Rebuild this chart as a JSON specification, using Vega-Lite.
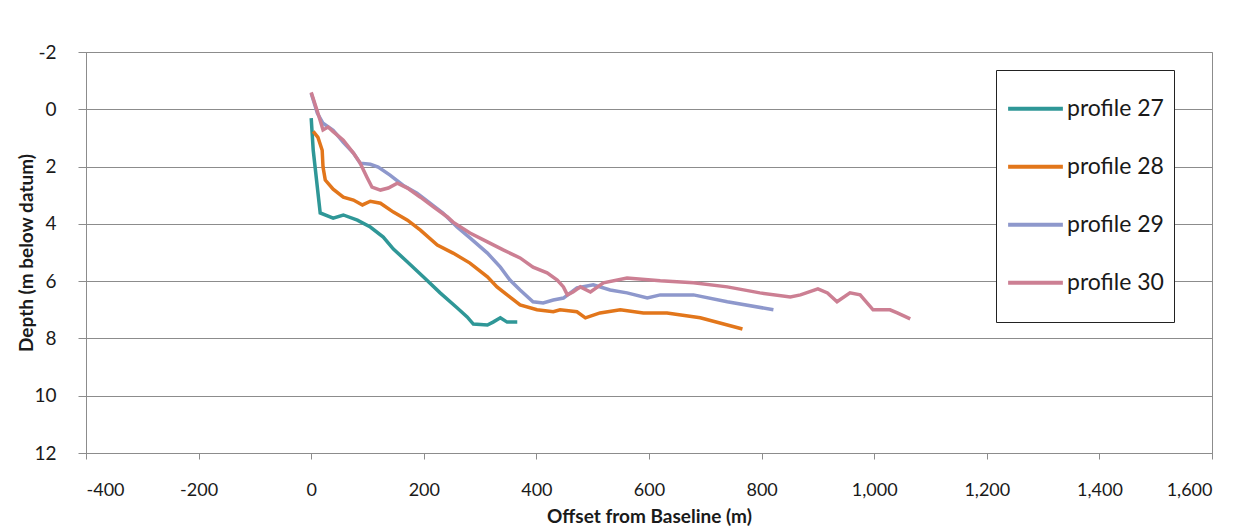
{
  "$schema": "https://vega.github.io/schema/vega-lite/v6.json",
  "autosize": {"type": "none"},
  "width": 1126,
  "height": 401,
  "padding": {"left": 86, "top": 52, "right": 38, "bottom": 79},
  "background": "white",
  "config": {
    "view": {"stroke": "#8c8c8c", "strokeWidth": 1},
    "font": "Lato"
  },
  "data": {"values": [
    {"profile": "profile 27", "offset": 0, "depth": 0.31},
    {"profile": "profile 27", "offset": 3.6, "depth": 1.43},
    {"profile": "profile 27", "offset": 16, "depth": 3.62},
    {"profile": "profile 27", "offset": 39, "depth": 3.8},
    {"profile": "profile 27", "offset": 57, "depth": 3.69},
    {"profile": "profile 27", "offset": 82, "depth": 3.87},
    {"profile": "profile 27", "offset": 105, "depth": 4.11},
    {"profile": "profile 27", "offset": 128, "depth": 4.46},
    {"profile": "profile 27", "offset": 146, "depth": 4.88},
    {"profile": "profile 27", "offset": 171, "depth": 5.33},
    {"profile": "profile 27", "offset": 199, "depth": 5.85},
    {"profile": "profile 27", "offset": 229, "depth": 6.41},
    {"profile": "profile 27", "offset": 259, "depth": 6.93},
    {"profile": "profile 27", "offset": 277, "depth": 7.25},
    {"profile": "profile 27", "offset": 288, "depth": 7.5},
    {"profile": "profile 27", "offset": 313, "depth": 7.53},
    {"profile": "profile 27", "offset": 323, "depth": 7.43},
    {"profile": "profile 27", "offset": 336, "depth": 7.28},
    {"profile": "profile 27", "offset": 348, "depth": 7.43},
    {"profile": "profile 27", "offset": 366, "depth": 7.43},

    {"profile": "profile 28", "offset": 3.5, "depth": 0.77},
    {"profile": "profile 28", "offset": 12, "depth": 0.98},
    {"profile": "profile 28", "offset": 19.5, "depth": 1.43},
    {"profile": "profile 28", "offset": 21, "depth": 2.02},
    {"profile": "profile 28", "offset": 25, "depth": 2.47},
    {"profile": "profile 28", "offset": 39, "depth": 2.79},
    {"profile": "profile 28", "offset": 57, "depth": 3.07},
    {"profile": "profile 28", "offset": 75, "depth": 3.17},
    {"profile": "profile 28", "offset": 91, "depth": 3.34},
    {"profile": "profile 28", "offset": 105, "depth": 3.21},
    {"profile": "profile 28", "offset": 123, "depth": 3.28},
    {"profile": "profile 28", "offset": 146, "depth": 3.59},
    {"profile": "profile 28", "offset": 171, "depth": 3.87},
    {"profile": "profile 28", "offset": 194, "depth": 4.22},
    {"profile": "profile 28", "offset": 224, "depth": 4.74},
    {"profile": "profile 28", "offset": 252, "depth": 5.02},
    {"profile": "profile 28", "offset": 282, "depth": 5.37},
    {"profile": "profile 28", "offset": 313, "depth": 5.85},
    {"profile": "profile 28", "offset": 330, "depth": 6.2},
    {"profile": "profile 28", "offset": 348, "depth": 6.48},
    {"profile": "profile 28", "offset": 371, "depth": 6.83},
    {"profile": "profile 28", "offset": 401, "depth": 7.0},
    {"profile": "profile 28", "offset": 430, "depth": 7.07},
    {"profile": "profile 28", "offset": 442, "depth": 7.0},
    {"profile": "profile 28", "offset": 472, "depth": 7.07},
    {"profile": "profile 28", "offset": 487, "depth": 7.28},
    {"profile": "profile 28", "offset": 513, "depth": 7.11},
    {"profile": "profile 28", "offset": 549, "depth": 7.0},
    {"profile": "profile 28", "offset": 590, "depth": 7.11},
    {"profile": "profile 28", "offset": 632, "depth": 7.11},
    {"profile": "profile 28", "offset": 691, "depth": 7.28},
    {"profile": "profile 28", "offset": 766, "depth": 7.67},

    {"profile": "profile 29", "offset": 0, "depth": -0.56},
    {"profile": "profile 29", "offset": 11, "depth": 0.14},
    {"profile": "profile 29", "offset": 21, "depth": 0.49},
    {"profile": "profile 29", "offset": 39, "depth": 0.73},
    {"profile": "profile 29", "offset": 57, "depth": 1.15},
    {"profile": "profile 29", "offset": 75, "depth": 1.53},
    {"profile": "profile 29", "offset": 87, "depth": 1.88},
    {"profile": "profile 29", "offset": 105, "depth": 1.92},
    {"profile": "profile 29", "offset": 119, "depth": 2.02},
    {"profile": "profile 29", "offset": 140, "depth": 2.3},
    {"profile": "profile 29", "offset": 163, "depth": 2.65},
    {"profile": "profile 29", "offset": 188, "depth": 2.93},
    {"profile": "profile 29", "offset": 211, "depth": 3.28},
    {"profile": "profile 29", "offset": 234, "depth": 3.62},
    {"profile": "profile 29", "offset": 259, "depth": 4.11},
    {"profile": "profile 29", "offset": 282, "depth": 4.49},
    {"profile": "profile 29", "offset": 313, "depth": 5.02},
    {"profile": "profile 29", "offset": 336, "depth": 5.51},
    {"profile": "profile 29", "offset": 353, "depth": 5.96},
    {"profile": "profile 29", "offset": 371, "depth": 6.31},
    {"profile": "profile 29", "offset": 394, "depth": 6.72},
    {"profile": "profile 29", "offset": 412, "depth": 6.76},
    {"profile": "profile 29", "offset": 430, "depth": 6.66},
    {"profile": "profile 29", "offset": 448, "depth": 6.59},
    {"profile": "profile 29", "offset": 472, "depth": 6.24},
    {"profile": "profile 29", "offset": 501, "depth": 6.13},
    {"profile": "profile 29", "offset": 531, "depth": 6.31},
    {"profile": "profile 29", "offset": 561, "depth": 6.41},
    {"profile": "profile 29", "offset": 597, "depth": 6.59},
    {"profile": "profile 29", "offset": 620, "depth": 6.48},
    {"profile": "profile 29", "offset": 679, "depth": 6.48},
    {"profile": "profile 29", "offset": 739, "depth": 6.72},
    {"profile": "profile 29", "offset": 821, "depth": 7.0},

    {"profile": "profile 30", "offset": 0, "depth": -0.59},
    {"profile": "profile 30", "offset": 12, "depth": 0.14},
    {"profile": "profile 30", "offset": 21, "depth": 0.72},
    {"profile": "profile 30", "offset": 30, "depth": 0.62},
    {"profile": "profile 30", "offset": 39, "depth": 0.78},
    {"profile": "profile 30", "offset": 57, "depth": 1.08},
    {"profile": "profile 30", "offset": 75, "depth": 1.53},
    {"profile": "profile 30", "offset": 87, "depth": 1.88},
    {"profile": "profile 30", "offset": 99, "depth": 2.37},
    {"profile": "profile 30", "offset": 108, "depth": 2.72},
    {"profile": "profile 30", "offset": 123, "depth": 2.82},
    {"profile": "profile 30", "offset": 137, "depth": 2.75},
    {"profile": "profile 30", "offset": 153, "depth": 2.58},
    {"profile": "profile 30", "offset": 171, "depth": 2.75},
    {"profile": "profile 30", "offset": 194, "depth": 3.07},
    {"profile": "profile 30", "offset": 217, "depth": 3.41},
    {"profile": "profile 30", "offset": 242, "depth": 3.76},
    {"profile": "profile 30", "offset": 252, "depth": 3.94},
    {"profile": "profile 30", "offset": 282, "depth": 4.32},
    {"profile": "profile 30", "offset": 313, "depth": 4.63},
    {"profile": "profile 30", "offset": 341, "depth": 4.91},
    {"profile": "profile 30", "offset": 371, "depth": 5.19},
    {"profile": "profile 30", "offset": 394, "depth": 5.51},
    {"profile": "profile 30", "offset": 419, "depth": 5.71},
    {"profile": "profile 30", "offset": 437, "depth": 5.96},
    {"profile": "profile 30", "offset": 448, "depth": 6.2},
    {"profile": "profile 30", "offset": 455, "depth": 6.48},
    {"profile": "profile 30", "offset": 465, "depth": 6.38},
    {"profile": "profile 30", "offset": 478, "depth": 6.2},
    {"profile": "profile 30", "offset": 496, "depth": 6.38},
    {"profile": "profile 30", "offset": 519, "depth": 6.06},
    {"profile": "profile 30", "offset": 561, "depth": 5.89},
    {"profile": "profile 30", "offset": 620, "depth": 5.99},
    {"profile": "profile 30", "offset": 679, "depth": 6.06},
    {"profile": "profile 30", "offset": 739, "depth": 6.2},
    {"profile": "profile 30", "offset": 797, "depth": 6.41},
    {"profile": "profile 30", "offset": 851, "depth": 6.55},
    {"profile": "profile 30", "offset": 869, "depth": 6.48},
    {"profile": "profile 30", "offset": 900, "depth": 6.27},
    {"profile": "profile 30", "offset": 917, "depth": 6.41},
    {"profile": "profile 30", "offset": 934, "depth": 6.72},
    {"profile": "profile 30", "offset": 957, "depth": 6.41},
    {"profile": "profile 30", "offset": 975, "depth": 6.48},
    {"profile": "profile 30", "offset": 998, "depth": 7.0},
    {"profile": "profile 30", "offset": 1028, "depth": 7.0},
    {"profile": "profile 30", "offset": 1041, "depth": 7.11},
    {"profile": "profile 30", "offset": 1064, "depth": 7.32}
  ]},
  "mark": {"type": "line", "strokeWidth": 3.5, "interpolate": "linear"},
  "encoding": {
    "x": {
      "field": "offset", "type": "quantitative",
      "scale": {"domain": [-400, 1600], "nice": false},
      "axis": {
        "title": "Offset from Baseline (m)",
        "values": [-400, -200, 0, 200, 400, 600, 800, 1000, 1200, 1400, 1600],
        "labelExpr": "replace(format(datum.value, ','), '\u2212', '-')",
        "grid": false,
        "domainColor": "#8c8c8c",
        "tickColor": "#8c8c8c",
        "tickSize": 6,
        "labelPadding": 22,
        "labelFont": "Lato",
        "labelFontSize": 18,
        "labelColor": "#1a1a1a",
        "titleFont": "Lato",
        "titleFontSize": 19,
        "titleFontWeight": "bold",
        "titleColor": "#1a1a1a",
        "titlePadding": 8
      }
    },
    "y": {
      "field": "depth", "type": "quantitative",
      "scale": {"domain": [-2, 12], "reverse": true, "nice": false, "zero": false},
      "axis": {
        "title": "Depth (m below datum)",
        "values": [-2, 0, 2, 4, 6, 8, 10, 12],
        "labelExpr": "replace(format(datum.value, 'd'), '\u2212', '-')",
        "grid": true,
        "gridColor": "#8c8c8c",
        "gridWidth": 1,
        "domainColor": "#8c8c8c",
        "tickColor": "#8c8c8c",
        "tickSize": 8,
        "labelPadding": 22,
        "labelFont": "Lato",
        "labelFontSize": 19,
        "labelColor": "#1a1a1a",
        "titleFont": "Lato",
        "titleFontSize": 19,
        "titleFontWeight": "bold",
        "titleColor": "#1a1a1a",
        "titlePadding": -3
      }
    },
    "color": {
      "field": "profile", "type": "nominal",
      "scale": {
        "domain": ["profile 27", "profile 28", "profile 29", "profile 30"],
        "range": ["#2f9797", "#e2761b", "#8e98cc", "#cc7f93"]
      },
      "legend": {
        "title": null,
        "orient": "none",
        "legendX": 910,
        "legendY": 18,
        "direction": "vertical",
        "symbolType": "stroke",
        "symbolSize": 3000,
        "symbolStrokeWidth": 4,
        "clipHeight": 57.5,
        "labelFont": "Lato",
        "labelFontSize": 23,
        "labelColor": "#1a1a1a",
        "labelOffset": 2,
        "rowPadding": 0,
        "padding": 10,
        "strokeColor": "#222222",
        "fillColor": "white",
        "labelLimit": 200
      }
    }
  }
}
